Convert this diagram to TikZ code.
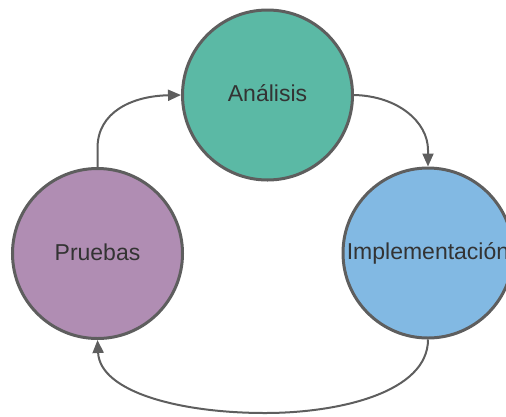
\documentclass[tikz,border=0pt]{standalone}
\usepackage{fontspec}
\setmainfont{Liberation Sans}
\usetikzlibrary{arrows.meta}
\definecolor{edgegray}{HTML}{5E5E5E}
\definecolor{textgray}{HTML}{333333}
\definecolor{tealfill}{HTML}{5BB9A5}
\definecolor{bluefill}{HTML}{82B9E3}
\definecolor{purplefill}{HTML}{B08DB3}
\begin{document}
\begin{tikzpicture}[x=1pt,y=-1pt,
  phase/.style={circle,draw=edgegray,line width=3pt,minimum size=170pt,inner sep=0pt,
    text=textgray,font=\fontsize{23}{27}\selectfont,text depth=3pt},
  flow/.style={draw=edgegray,line width=2pt,-{Triangle[length=13pt,width=11pt]}}]
  \useasboundingbox (0,0) rectangle (506,416);
  \begin{scope}
    \clip (0,0) rectangle (506,416);
    \node[phase,fill=tealfill] (ana) at (267.5,95) {Análisis};
    \node[phase,fill=bluefill] (imp) at (428,253) {Implementación};
    \node[phase,fill=purplefill] (pru) at (97.5,253.5) {Pruebas};
    % Pruebas -> Análisis
    \draw[flow] (pru.north) -- (97.5,148) .. controls (97.5,112) and (132,96) .. (ana.west);
    % Análisis -> Implementación
    \draw[flow] (ana.east) .. controls (398,96) and (428,122) .. (428,150) -- (imp.north);
    % Implementación -> Pruebas
    \draw[flow] (imp.south) .. controls (428,392) and (340,413) .. (265,413)
      .. controls (180,413) and (100,392) .. (pru.south);
  \end{scope}
\end{tikzpicture}
\end{document}
